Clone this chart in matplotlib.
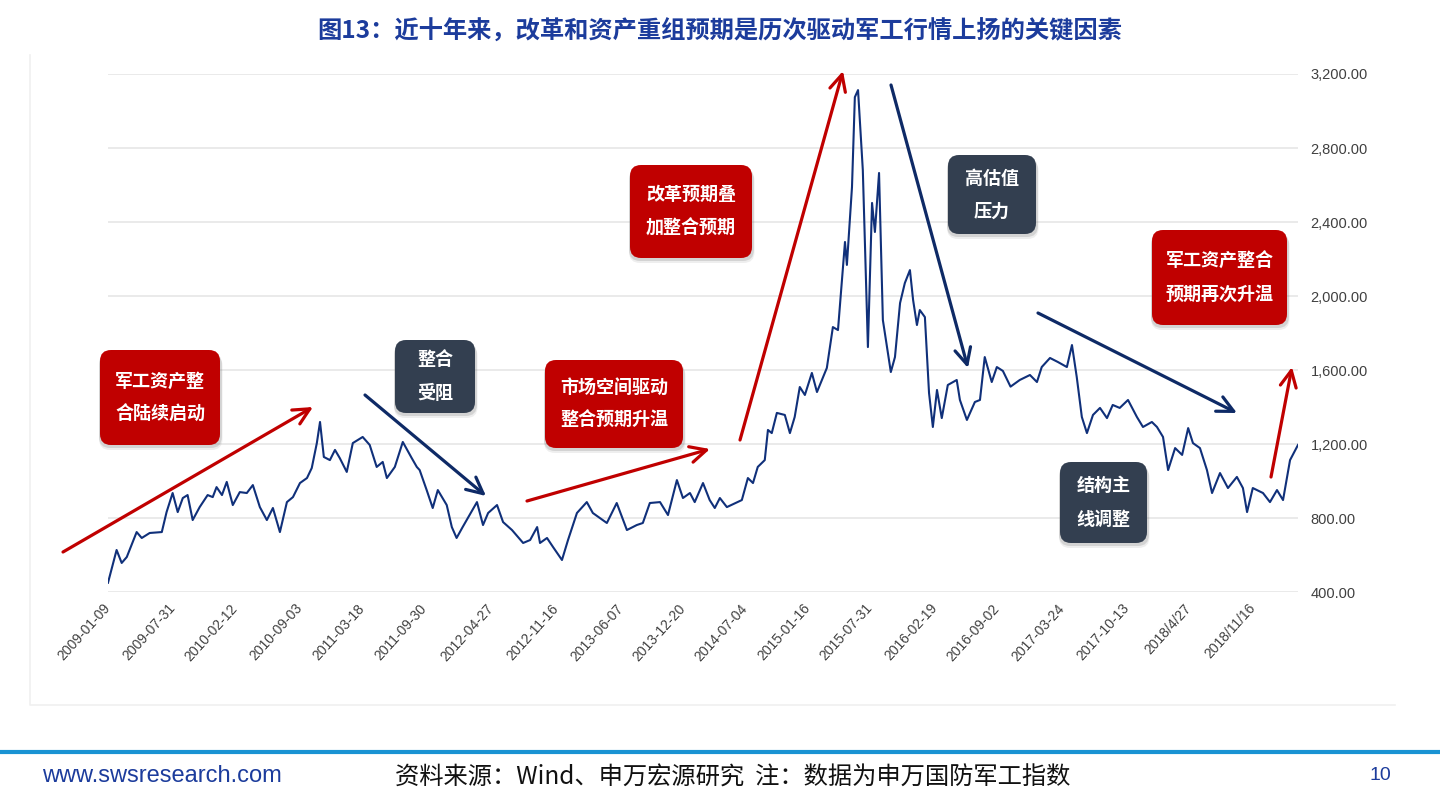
import matplotlib
matplotlib.use("Agg")
import matplotlib.pyplot as plt
from matplotlib.patches import FancyBboxPatch
from matplotlib.lines import Line2D
from matplotlib.transforms import IdentityTransform
from matplotlib.ticker import FuncFormatter
import pandas as pd

W, H = 1440, 805

# 申万国防军工指数, values
dates = [
    '2009-01-09', '2009-02-05', '2009-02-21', '2009-03-09', '2009-04-09', '2009-04-25', '2009-05-20',
    '2009-06-27', '2009-07-12', '2009-07-31', '2009-08-16', '2009-09-01', '2009-09-16', '2009-10-02',
    '2009-10-24', '2009-11-18', '2009-12-04', '2009-12-16',
    '2010-01-02', '2010-01-17', '2010-02-05', '2010-02-27', '2010-03-21', '2010-04-09', '2010-05-01',
    '2010-05-23', '2010-06-11', '2010-07-03', '2010-07-25', '2010-08-13', '2010-09-04', '2010-09-26',
    '2010-10-11', '2010-10-27', '2010-11-06', '2010-11-18', '2010-12-07', '2010-12-23',
    '2011-01-07', '2011-01-29', '2011-02-17', '2011-03-20', '2011-04-11', '2011-05-03', '2011-05-22',
    '2011-06-04', '2011-06-29', '2011-07-24', '2011-08-21', '2011-09-06', '2011-09-15', '2011-10-07',
    '2011-10-26', '2011-11-11', '2011-12-09', '2011-12-25',
    '2012-01-09', '2012-01-28', '2012-03-13', '2012-04-01', '2012-04-17', '2012-05-15', '2012-06-03',
    '2012-07-01', '2012-08-05', '2012-08-27', '2012-09-18', '2012-09-27', '2012-10-19', '2012-11-07',
    '2012-12-05', '2012-12-24',
    '2013-01-21', '2013-02-21', '2013-03-12', '2013-04-25', '2013-05-26', '2013-06-27', '2013-07-28',
    '2013-08-16', '2013-09-07', '2013-10-09', '2013-11-03', '2013-12-01', '2013-12-20',
    '2014-01-11', '2014-01-26', '2014-02-21', '2014-03-14', '2014-03-30', '2014-04-15', '2014-05-07',
    '2014-06-23', '2014-07-12', '2014-07-28', '2014-08-12', '2014-09-03', '2014-09-13', '2014-09-25',
    '2014-10-11', '2014-11-05', '2014-11-21', '2014-12-06', '2014-12-22',
    '2015-01-07', '2015-01-29', '2015-02-14', '2015-03-17', '2015-04-05', '2015-04-21', '2015-05-13',
    '2015-05-19', '2015-06-04', '2015-06-13', '2015-06-23', '2015-07-08', '2015-07-24', '2015-08-06',
    '2015-08-15', '2015-08-28', '2015-09-09', '2015-10-04', '2015-10-17', '2015-11-02', '2015-11-17',
    '2015-12-03', '2015-12-13', '2015-12-25',
    '2016-01-03', '2016-01-19', '2016-02-01', '2016-02-13', '2016-02-26', '2016-03-12', '2016-03-31',
    '2016-04-28', '2016-05-08', '2016-05-30', '2016-06-24', '2016-07-10', '2016-07-25', '2016-08-16',
    '2016-09-01', '2016-09-20', '2016-10-14', '2016-11-12', '2016-12-14',
    '2017-01-05', '2017-01-20', '2017-02-15', '2017-03-12', '2017-04-09', '2017-04-25', '2017-05-10',
    '2017-05-26', '2017-06-11', '2017-06-30', '2017-07-22', '2017-08-13', '2017-08-31', '2017-09-22',
    '2017-10-18', '2017-11-15', '2017-12-04',
    '2018-01-01', '2018-01-17', '2018-02-05', '2018-02-21', '2018-03-15', '2018-04-06', '2018-04-25',
    '2018-05-10', '2018-06-01', '2018-06-23', '2018-07-09', '2018-08-03', '2018-08-28', '2018-09-25',
    '2018-10-14', '2018-10-27', '2018-11-14', '2018-12-16',
    '2019-01-07', '2019-01-29', '2019-02-17', '2019-03-11', '2019-04-05',
]
values = [
    450, 627, 557, 589, 724, 692, 719, 724, 832, 935, 832, 908, 924, 789, 859, 924, 913, 967,
    924, 995, 870, 940, 935, 978, 859, 789, 854, 724, 886, 913, 989, 1016, 1070, 1205, 1319, 1130,
    1113, 1168,
    1124, 1049, 1205, 1238, 1195, 1076, 1103, 1016, 1076, 1211, 1124, 1076, 1059, 951, 854, 951, 870, 751,
    692, 751, 886, 762, 827, 870, 778, 735, 665, 681, 751, 665, 692, 643, 573, 681,
    827, 886, 827, 773, 881, 735, 762, 773, 881, 886, 816, 1005, 908,
    935, 886, 989, 897, 854, 908, 859, 897, 1016, 989, 1076, 1113, 1276, 1259, 1368, 1357, 1259, 1346, 1508,
    1465, 1584, 1481, 1611, 1832, 1816, 2292, 2168, 2589, 3075, 3113, 2681, 1724, 2503, 2346, 2665,
    1870, 1589, 1670, 1962, 2070, 2140, 1978, 1843,
    1924, 1886, 1476, 1292, 1492, 1340, 1519, 1546, 1438, 1330, 1427, 1438, 1670, 1535, 1616, 1595,
    1510, 1546, 1573,
    1535, 1616, 1665, 1643, 1616, 1735, 1562, 1346, 1259, 1357, 1395, 1340, 1411, 1395, 1438, 1346, 1292,
    1319, 1292, 1238, 1059, 1178, 1141, 1286, 1205, 1178, 1059, 935, 1043, 962, 1022, 962, 832, 962, 935,
    886, 951, 897, 1113, 1195,
]

tick_dates = ['2009-01-09', '2009-07-31', '2010-02-12', '2010-09-03', '2011-03-18', '2011-09-30',
              '2012-04-27', '2012-11-16', '2013-06-07', '2013-12-20', '2014-07-04', '2015-01-16',
              '2015-07-31', '2016-02-19', '2016-09-02', '2017-03-24', '2017-10-13', '2018-04-27',
              '2018-11-16']
tick_labels = ['2009-01-09', '2009-07-31', '2010-02-12', '2010-09-03', '2011-03-18', '2011-09-30',
               '2012-04-27', '2012-11-16', '2013-06-07', '2013-12-20', '2014-07-04', '2015-01-16',
               '2015-07-31', '2016-02-19', '2016-09-02', '2017-03-24', '2017-10-13', '2018/4/27',
               '2018/11/16']
y_ticks = [400, 800, 1200, 1600, 2000, 2400, 2800, 3200]

title = '图13：近十年来，改革和资产重组预期是历次驱动军工行情上扬的关键因素'
box_labels = ['军工资产整\n合陆续启动', '整合\n受阻', '市场空间驱动\n整合预期升温', '改革预期叠\n加整合预期',
              '高估值\n压力', '军工资产整合\n预期再次升温', '结构主\n线调整']
box_kinds = ['up', 'down', 'up', 'up', 'down', 'up', 'down']

RED = '#c00000'
SLATE = '#333f50'
NAVY = '#10307a'
ARROW_NAVY = '#0e2a66'
BLUE_TXT = '#1c3c9c'
CJK = ['Noto Sans CJK SC', 'DejaVu Sans']

plt.rcParams['font.family'] = ['Liberation Sans', 'Noto Sans CJK SC', 'DejaVu Sans']

fig = plt.figure(figsize=(W / 100, H / 100), dpi=100)
fig.patch.set_facecolor('white')


def fx(x):
    return x / W


def fy(y):
    return 1 - y / H


# faint left/bottom edge of the pasted chart picture
fig.lines.append(Line2D([fx(30), fx(30), fx(1395)], [fy(55), fy(705), fy(705)],
                        transform=fig.transFigure, color='#f0f0f0', lw=1.2))

ax = fig.add_axes([fx(108), fy(592), fx(1298) - fx(108), fy(74) - fy(592)])
x = pd.to_datetime(dates)
ax.plot(x, values, color=NAVY, lw=1.5, zorder=3)
ax.set_xlim(x[0], x[-1])
ax.set_ylim(400, 3200)
ax.set_yticks(y_ticks)
ax.yaxis.tick_right()
ax.yaxis.set_major_formatter(FuncFormatter(lambda v, p: f'{v:,.2f}'))
ax.grid(axis='y', color='#e6e6e6', lw=1.2)
ax.set_axisbelow(True)
for s in ax.spines.values():
    s.set_visible(False)
ax.tick_params(axis='y', length=0, pad=9, labelsize=10.5, labelcolor='#404040')
ax.set_xticks(pd.to_datetime(tick_dates))
ax.set_xticklabels(tick_labels, rotation=48, ha='right', va='center', rotation_mode='anchor',
                   fontsize=10, color='#404040')
ax.tick_params(axis='x', length=0, pad=10)

# annotation boxes (pixel rects of the reference)
box_rects = [(100, 350, 220, 445), (395, 340, 475, 413), (545, 360, 683, 448), (630, 165, 752, 258),
             (948, 155, 1036, 234), (1152, 230, 1287, 325), (1060, 462, 1147, 543)]
for label, kind, (x0, y0, x1, y1) in zip(box_labels, box_kinds, box_rects):
    col = RED if kind == 'up' else SLATE
    for off, a in [(5, 0.12), (3, 0.22)]:
        fig.patches.append(FancyBboxPatch((x0 - 1, H - y1 - off), x1 - x0 + 2 + off * 0.3, y1 - y0,
                                          boxstyle='round,pad=0,rounding_size=11',
                                          transform=IdentityTransform(), facecolor='#777777',
                                          edgecolor='none', alpha=a, zorder=5))
    fig.patches.append(FancyBboxPatch((x0, H - y1), x1 - x0, y1 - y0,
                                      boxstyle='round,pad=0,rounding_size=11',
                                      transform=IdentityTransform(), facecolor=col,
                                      edgecolor='none', zorder=6))
    fig.text(fx((x0 + x1) / 2), fy((y0 + y1) / 2), label, ha='center', va='center',
             color='white', fontsize=13, fontweight='bold', linespacing=1.95,
             family=CJK, zorder=7)

# trend arrows (pixel positions of the reference)
arrows = [((63, 552), (313, 407), RED), ((527, 501), (710, 449), RED), ((740, 440), (843, 71), RED),
          ((1271, 477), (1292, 367), RED), ((365, 395), (486, 496), ARROW_NAVY),
          ((891, 85), (968, 368), ARROW_NAVY), ((1038, 313), (1237, 413), ARROW_NAVY)]
for (sx, sy), (ex, ey), col in arrows:
    ax.annotate('', xy=(ex, H - ey), xytext=(sx, H - sy), xycoords='figure pixels',
                textcoords='figure pixels', annotation_clip=False,
                arrowprops=dict(arrowstyle='->,head_length=0.65,head_width=0.32', color=col,
                                lw=2.3, mutation_scale=18, shrinkA=0, shrinkB=0), zorder=8)

fig.text(0.5, fy(32), title, ha='center', va='center', fontsize=17.5, fontweight='bold',
         color=BLUE_TXT, family=CJK)

fig.lines.append(Line2D([0, 1], [fy(752), fy(752)], transform=fig.transFigure,
                        color='#1a93d3', lw=3))
fig.text(fx(42), fy(776), 'www.swsresearch.com', ha='left', va='center', fontsize=17,
         color=BLUE_TXT, family='Liberation Sans')
fig.text(fx(395), fy(778), '资料来源：Wind、申万宏源研究  注：数据为申万国防军工指数', ha='left',
         va='center', fontsize=17.5, color='#111111', family=CJK)
fig.text(fx(1380), fy(775), '10', ha='center', va='center', fontsize=14, color=BLUE_TXT,
         family='Liberation Sans')

fig.savefig('out.png', dpi=100, facecolor='white')
